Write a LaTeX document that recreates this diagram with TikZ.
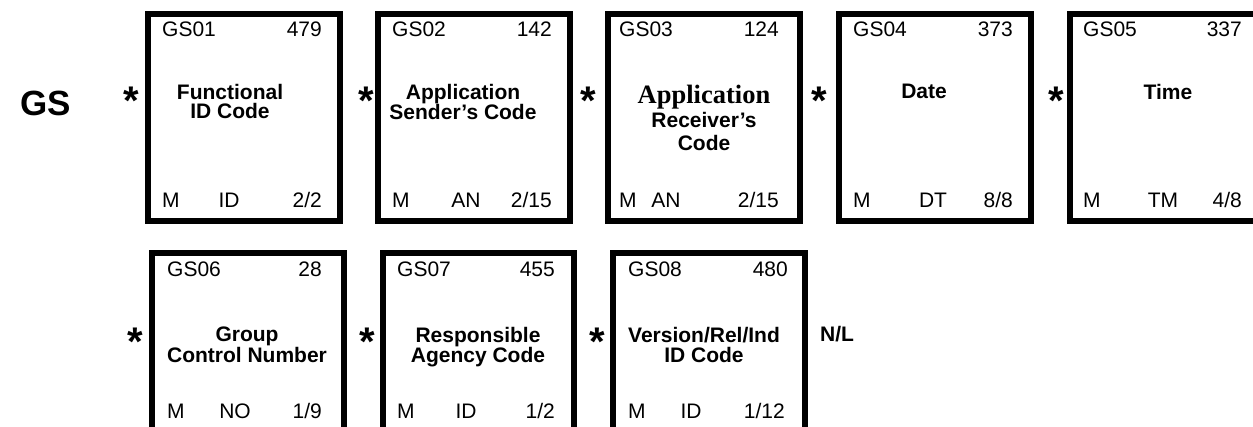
\documentclass[tikz,border=0pt]{standalone}
\usepackage{fontspec}
\setmainfont{Liberation Sans}
\newfontfamily\serifbold{Liberation Serif}
\usetikzlibrary{calc}
\begin{document}
\begin{tikzpicture}[x=1pt,y=-1pt,
  fieldbox/.style={draw, line width=6pt, rectangle, inner sep=0pt, outer sep=0pt, minimum width=192pt},
  rowone/.style={minimum height=207pt},
  rowtwo/.style={minimum height=217pt},
  lab/.style={inner sep=0pt, font=\fontsize{21}{25}\selectfont},
  ttl/.style={inner sep=0pt, anchor=north, align=center, font=\fontsize{21}{19.5}\selectfont\bfseries},
  sepstar/.style={inner sep=0pt, anchor=north, font=\fontsize{40}{40}\selectfont\bfseries},
]
\useasboundingbox (0,0) rectangle (1253,427);
\clip (0,0) rectangle (1253,427);

% segment id
\node[inner sep=0pt, anchor=base west, font=\fontsize{35}{35}\selectfont\bfseries] (segid) at (20,116) {GS};

% row 1 boxes
\node[fieldbox, rowone] (b1) at (244,117.5) {};
\node[fieldbox, rowone] (b2) at (474,117.5) {};
\node[fieldbox, rowone] (b3) at (704,117.5) {};
\node[fieldbox, rowone] (b4) at (935,117.5) {};
\node[fieldbox, rowone] (b5) at (1166,117.5) {};
% row 2 boxes
\node[fieldbox, rowtwo] (b6) at (248,361.5) {};
\node[fieldbox, rowtwo, minimum width=191pt] (b7) at (478.5,361.5) {};
\node[fieldbox, rowtwo] (b8) at (709,361.5) {};

% separators
\node[sepstar] (s1) at (131,87) {*};
\node[sepstar] (s2) at (366,87) {*};
\node[sepstar] (s3) at (588,87) {*};
\node[sepstar] (s4) at (819,87) {*};
\node[sepstar] (s5) at (1056,87) {*};
\node[sepstar] (s6) at (135,328) {*};
\node[sepstar] (s7) at (367,328) {*};
\node[sepstar] (s8) at (597,328) {*};

% GS01
\node[lab, anchor=base west] (b1id) at (162,37) {GS01};
\node[lab, anchor=base east] (b1no) at (322,37) {479};
\node[ttl] (b1t) at (230,84) {Functional\\ID Code};
\node[lab, anchor=base west] (b1r) at (162,208) {M};
\node[lab, anchor=base] (b1ty) at (229,208) {ID};
\node[lab, anchor=base east] (b1len) at (322,208) {2/2};

% GS02
\node[lab, anchor=base west] (b2id) at (392,37) {GS02};
\node[lab, anchor=base east] (b2no) at (552,37) {142};
\node[ttl] (b2t) at (463,84) {Application\\Sender's Code};
\node[lab, anchor=base west] (b2r) at (392,208) {M};
\node[lab, anchor=base] (b2ty) at (466,208) {AN};
\node[lab, anchor=base east] (b2len) at (552,208) {2/15};

% GS03
\node[lab, anchor=base west] (b3id) at (619,37) {GS03};
\node[lab, anchor=base east] (b3no) at (779,37) {124};
\node[ttl, font=\fontsize{21}{23.5}\selectfont\bfseries] (b3t) at (704,85) {{\serifbold\fontsize{26.5}{23.5}\selectfont Application}\\Receiver's\\Code};
\node[lab, anchor=base west] (b3r) at (619,208) {M};
\node[lab, anchor=base] (b3ty) at (666,208) {AN};
\node[lab, anchor=base east] (b3len) at (779,208) {2/15};

% GS04
\node[lab, anchor=base west] (b4id) at (853,37) {GS04};
\node[lab, anchor=base east] (b4no) at (1013,37) {373};
\node[ttl] (b4t) at (924,84) {Date};
\node[lab, anchor=base west] (b4r) at (853,208) {M};
\node[lab, anchor=base] (b4ty) at (933,208) {DT};
\node[lab, anchor=base east] (b4len) at (1013,208) {8/8};

% GS05
\node[lab, anchor=base west] (b5id) at (1083,37) {GS05};
\node[lab, anchor=base east] (b5no) at (1242,37) {337};
\node[ttl] (b5t) at (1168,84) {Time};
\node[lab, anchor=base west] (b5r) at (1083,208) {M};
\node[lab, anchor=base] (b5ty) at (1163,208) {TM};
\node[lab, anchor=base east] (b5len) at (1242,208) {4/8};

% GS06
\node[lab, anchor=base west] (b6id) at (167,277) {GS06};
\node[lab, anchor=base east] (b6no) at (322,277) {28};
\node[ttl, font=\fontsize{21}{20.5}\selectfont\bfseries] (b6t) at (247,327) {Group\\Control Number};
\node[lab, anchor=base west] (b6r) at (167,418) {M};
\node[lab, anchor=base] (b6ty) at (235,418) {NO};
\node[lab, anchor=base east] (b6len) at (322,418) {1/9};

% GS07
\node[lab, anchor=base west] (b7id) at (397,277) {GS07};
\node[lab, anchor=base east] (b7no) at (555,277) {455};
\node[ttl, font=\fontsize{21}{20.5}\selectfont\bfseries] (b7t) at (478,327) {Responsible\\Agency Code};
\node[lab, anchor=base west] (b7r) at (397,418) {M};
\node[lab, anchor=base] (b7ty) at (466,418) {ID};
\node[lab, anchor=base east] (b7len) at (555,418) {1/2};

% GS08
\node[lab, anchor=base west] (b8id) at (628,277) {GS08};
\node[lab, anchor=base east] (b8no) at (788,277) {480};
\node[ttl, font=\fontsize{21}{20.5}\selectfont\bfseries] (b8t) at (704,327) {Version/Rel/Ind\\ID Code};
\node[lab, anchor=base west] (b8r) at (628,418) {M};
\node[lab, anchor=base] (b8ty) at (691,418) {ID};
\node[lab, anchor=base east] (b8len) at (785,418) {1/12};

% terminator
\node[lab, anchor=base west, font=\fontsize{21}{25}\selectfont\bfseries] (term) at (820,342) {N/L};
\end{tikzpicture}
\end{document}
